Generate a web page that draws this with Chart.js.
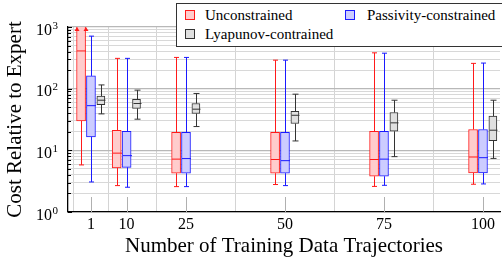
<!DOCTYPE html>
<html>
<head>
<meta charset="utf-8">
<script src="https://cdn.jsdelivr.net/npm/chart.js@4.4.1/dist/chart.umd.min.js"></script>
<style>
  html, body { margin: 0; padding: 0; background: #fff; }
  #wrap { position: relative; width: 502px; height: 267px; overflow: hidden; }
  #legend { position: absolute; left: 176px; top: 3px; width: 340px; height: 42px; border: 1px solid #333; background: #fff; }
  .item { position: absolute; white-space: nowrap; font-family: 'Liberation Serif', serif; font-size: 15px; line-height: 16px; color: #000; }
  .swatch { position: absolute; width: 8px; height: 8px; border: 1px solid; }
</style>
</head>
<body>
<div id="wrap">
  <canvas id="chart" width="502" height="267"></canvas>
  <div id="legend"></div>
</div>
<script>
// number of training trajectories (x positions)
const counts = [1, 10, 25, 50, 75, 100]

// Unconstrained
const unconMin = [5.8, 2.68, 2.58, 2.79, 2.6, 2.82]
const unconQ1  = [30, 5.2, 4.25, 4.25, 3.8, 4.3]
const unconMed = [409, 9.0, 7.2, 7.1, 7.1, 7.8]
const unconQ3  = [1500, 21.2, 19.5, 19.5, 20.4, 21.8]
const unconMax = [3000, 310, 321, 290, 381, 257]

// Passivity-constrained
const passMin = [3.07, 2.52, 2.58, 2.68, 2.71, 2.85]
const passQ1  = [16.5, 5.3, 4.25, 4.25, 3.8, 4.3]
const passMed = [53, 8.2, 7.35, 6.8, 7.2, 7.6]
const passQ3  = [161, 20.4, 19.5, 19.5, 20.4, 21.8]
const passMax = [711, 310, 321, 290, 376, 260]

// Lyapunov-contrained
const lyapMin = [39, 32, 24.3, 14.2, 7.9, 7.4]
const lyapQ1  = [55, 48, 39.6, 27.2, 20.4, 14.4]
const lyapMed = [65, 57.5, 46.5, 37, 27.9, 21.2]
const lyapQ3  = [76, 67, 57.5, 43, 41, 35.8]
const lyapMax = [115, 94.6, 83.6, 81.4, 65, 65]

const yDecades = [1, 10, 100, 1000]

const series = [
  { label: 'Unconstrained', min: unconMin, q1: unconQ1, med: unconMed, q3: unconQ3, max: unconMax,
    shift: -2.5, stroke: '#ff1a1a', fill: '#ffcccc', width: 9, cap: 2.5 },
  { label: 'Passivity-constrained', min: passMin, q1: passQ1, med: passMed, q3: passQ3, max: passMax,
    shift: 0, stroke: '#1a1aff', fill: '#ccccff', width: 9, cap: 2.5 },
  { label: 'Lyapunov-contrained', min: lyapMin, q1: lyapQ1, med: lyapMed, q3: lyapQ3, max: lyapMax,
    shift: 2.5, stroke: '#333333', fill: '#e0e0e0', width: 8, cap: 3 }
]

// legend (two columns, like the original figure)
const legendSpots = [
  { sx: 185, sy: 10, tx: 205, ty: 7 },
  { sx: 345, sy: 10, tx: 367, ty: 7 },
  { sx: 185, sy: 29, tx: 205, ty: 26 }
]
const wrap = document.getElementById('wrap')
series.forEach((s, i) => {
  const p = legendSpots[i]
  const sw = document.createElement('div')
  sw.className = 'swatch'
  sw.style.left = p.sx + 'px'; sw.style.top = p.sy + 'px'
  sw.style.borderColor = s.stroke; sw.style.background = s.fill
  const tx = document.createElement('div')
  tx.className = 'item'
  tx.style.left = p.tx + 'px'; tx.style.top = p.ty + 'px'
  tx.textContent = s.label
  wrap.appendChild(sw); wrap.appendChild(tx)
})

const boxPlugin = {
  id: 'boxWhiskers',
  afterDatasetsDraw(chart) {
    const { ctx, chartArea, scales: { y } } = chart
    ctx.save()
    ctx.beginPath()
    ctx.rect(chartArea.left, chartArea.top - 1, chartArea.width, chartArea.height + 1)
    ctx.clip()
    ctx.lineWidth = 1
    series.forEach((s, si) => {
      const meta = chart.getDatasetMeta(si)
      meta.data.forEach((bar, i) => {
        const cx = Math.round(bar.x) + 0.5
        const half = bar.width / 2
        const pMin = y.getPixelForValue(s.min[i])
        const pQ1 = y.getPixelForValue(s.q1[i])
        const pMed = y.getPixelForValue(s.med[i])
        const pQ3 = y.getPixelForValue(s.q3[i])
        const pMax = y.getPixelForValue(s.max[i])
        ctx.strokeStyle = s.stroke
        ctx.beginPath()
        ctx.moveTo(cx, pQ1); ctx.lineTo(cx, pMin)
        ctx.moveTo(cx - s.cap, pMin); ctx.lineTo(cx + s.cap, pMin)
        ctx.moveTo(cx, pQ3); ctx.lineTo(cx, pMax)
        ctx.moveTo(cx - s.cap, pMax); ctx.lineTo(cx + s.cap, pMax)
        ctx.moveTo(cx - half, pMed); ctx.lineTo(cx + half, pMed)
        ctx.stroke()
        // box running off the top of the axis: arrow heads on its edges
        if (s.q3[i] > y.max) {
          ctx.fillStyle = s.stroke
          ;[cx - half, cx + half].forEach(ax => {
            ctx.beginPath()
            ctx.moveTo(ax, chartArea.top)
            ctx.lineTo(ax - 2.5, chartArea.top + 4)
            ctx.lineTo(ax + 2.5, chartArea.top + 4)
            ctx.closePath()
            ctx.fill()
          })
        }
      })
    })
    ctx.restore()
  },
  afterDraw(chart) {
    const { ctx, chartArea, scales: { x, y } } = chart
    ctx.save()
    // y tick labels 10^n
    ctx.fillStyle = '#000'
    yDecades.forEach(v => {
      const py = y.getPixelForValue(v)
      ctx.font = '16px "Liberation Serif", serif'
      ctx.textAlign = 'right'
      ctx.textBaseline = 'alphabetic'
      ctx.fillText('10', 52, py + 7.5)
      ctx.font = '11px "Liberation Serif", serif'
      ctx.textAlign = 'left'
      ctx.fillText(String(Math.round(Math.log10(v))), 52.5, py + 1.5)
    })
    // inner tick marks on the y axis
    ctx.strokeStyle = '#000'
    ctx.lineWidth = 1
    ctx.beginPath()
    y.ticks.forEach(t => {
      const py = Math.round(y.getPixelForValue(t.value)) + 0.5
      const len = yDecades.includes(t.value) ? 4 : 3
      ctx.moveTo(chartArea.left, py); ctx.lineTo(chartArea.left + len, py)
    })
    ctx.stroke()
    // inner tick marks on the x axis
    ctx.strokeStyle = '#b0b0b0'
    ctx.beginPath()
    counts.forEach(c => {
      const px = Math.round(x.getPixelForValue(c)) + 0.5
      ctx.moveTo(px, chartArea.bottom); ctx.lineTo(px, chartArea.bottom - 15)
    })
    ctx.stroke()
    ctx.restore()
  }
}

const datasets = series.map(s => ({
  label: s.label,
  data: counts.map((c, i) => ({ x: c + s.shift, y: [s.q1[i], s.q3[i]] })),
  backgroundColor: s.fill,
  borderColor: s.stroke,
  borderWidth: 1,
  borderSkipped: false,
  barThickness: s.width,
  grouped: false
}))

const serif = 'Liberation Serif'

new Chart(document.getElementById('chart'), {
  type: 'bar',
  data: { datasets: datasets },
  options: {
    responsive: false,
    animation: false,
    devicePixelRatio: 1,
    layout: { padding: { left: 0, top: 27, right: 2, bottom: 0 } },
    plugins: { legend: { display: false }, tooltip: { enabled: false } },
    scales: {
      x: {
        type: 'linear',
        min: -4.8,
        max: 104.3,
        offset: false,
        afterBuildTicks: s => { s.ticks = counts.map(v => ({ value: v })) },
        afterFit: s => { s.height = 55 },
        grid: { color: '#d4d4d4', drawTicks: false },
        border: { color: '#000', width: 1.3 },
        ticks: {
          color: '#000', padding: 3, autoSkip: false, maxRotation: 0,
          font: { family: serif, size: 16 },
          callback: v => String(v)
        },
        title: {
          display: true, text: 'Number of Training Data Trajectories', color: '#000',
          font: { family: serif, size: 21 }, padding: { top: 0, bottom: 8 }
        }
      },
      y: {
        type: 'logarithmic',
        min: 1,
        max: 1000,
        afterBuildTicks: s => {
          const t = []
          for (let d = 1; d < 1000; d *= 10) {
            for (let k = 1; k < 10; k++) t.push({ value: d * k })
          }
          t.push({ value: 1000 })
          s.ticks = t
        },
        afterFit: s => { s.width = 68 },
        grid: {
          drawTicks: false,
          color: c => yDecades.includes(c.tick.value) ? '#b8b8b8' : '#d8d8d8',
          lineWidth: c => yDecades.includes(c.tick.value) ? 1.3 : 1
        },
        border: { color: '#000', width: 1.3 },
        ticks: { display: false },
        title: {
          display: true, text: 'Cost Relative to Expert', color: '#000',
          font: { family: serif, size: 21 }, padding: { top: 3, bottom: 0 }
        }
      }
    }
  },
  plugins: [boxPlugin]
})
</script>
</body>
</html>
